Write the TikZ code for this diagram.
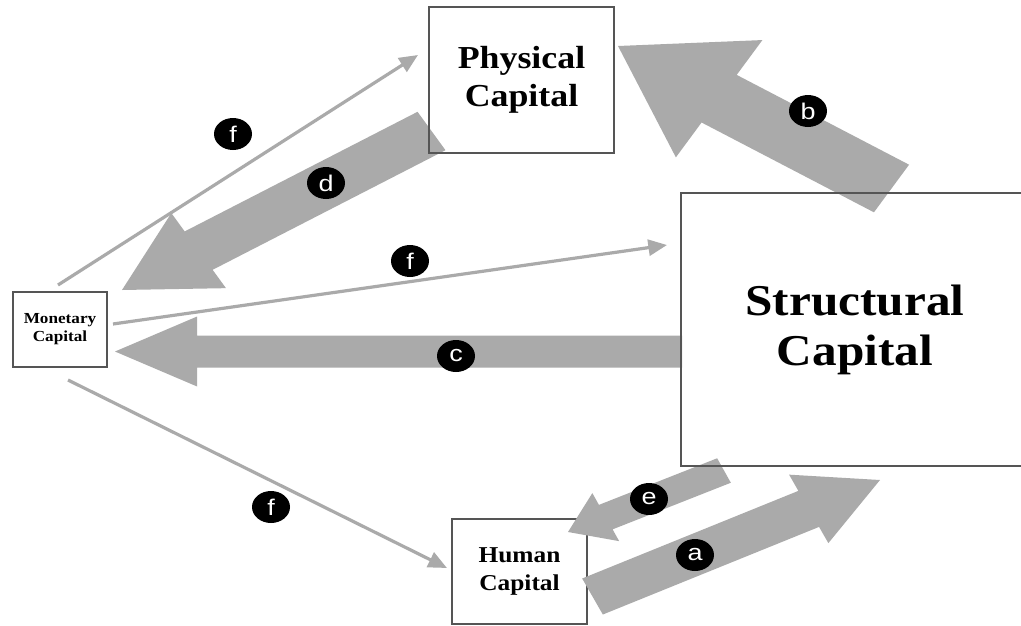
\documentclass[tikz,border=0pt]{standalone}
\usepackage{fontspec}
\usetikzlibrary{arrows.meta,shapes.geometric}
\newfontfamily\boxfont[FakeStretch=1.12]{Liberation Serif}
\newfontfamily\tagfont[FakeStretch=1.19]{Liberation Sans}
\pgfdeclarelayer{arrowlayer}
\pgfsetlayers{arrowlayer,main}

% horizontal stretch of the whole drawing
\newcommand\hstretch{1.19}

% \blockarrow{tail}{tip}{shaft half width}{head half width}{head length}
% widths and length in picture units (px), measured before the stretch
\newcommand\blockarrow[5]{%
  \pgfpointanchor{#1}{center}\pgfgetlastxy{\bax}{\bay}%
  \pgfpointanchor{#2}{center}\pgfgetlastxy{\bbx}{\bby}%
  \pgfmathsetmacro\bdx{(\bbx-\bax)/\hstretch}%
  \pgfmathsetmacro\bdy{\bby-\bay}%
  \pgfmathsetmacro\blen{veclen(\bdx,\bdy)}%
  \pgfmathsetmacro\bux{\bdx/\blen}%
  \pgfmathsetmacro\buy{\bdy/\blen}%
  \pgfmathsetmacro\bpx{-\buy*\hstretch}%
  \pgfmathsetmacro\bpy{\bux}%
  \pgfmathsetmacro\bsw{#3*0.75}%
  \pgfmathsetmacro\bhw{#4*0.75}%
  \pgfmathsetmacro\bhl{#5*0.75}%
  \pgfmathsetmacro\bhx{\bbx-\bux*\hstretch*\bhl}%
  \pgfmathsetmacro\bhy{\bby-\buy*\bhl}%
  \pgfmathsetmacro\tax{\bax+\bpx*\bsw}\pgfmathsetmacro\tay{\bay+\bpy*\bsw}%
  \pgfmathsetmacro\tbx{\bax-\bpx*\bsw}\pgfmathsetmacro\tby{\bay-\bpy*\bsw}%
  \pgfmathsetmacro\jax{\bhx+\bpx*\bsw}\pgfmathsetmacro\jay{\bhy+\bpy*\bsw}%
  \pgfmathsetmacro\jbx{\bhx-\bpx*\bsw}\pgfmathsetmacro\jby{\bhy-\bpy*\bsw}%
  \pgfmathsetmacro\hax{\bhx+\bpx*\bhw}\pgfmathsetmacro\hay{\bhy+\bpy*\bhw}%
  \pgfmathsetmacro\hbx{\bhx-\bpx*\bhw}\pgfmathsetmacro\hby{\bhy-\bpy*\bhw}%
  \pgfmathsetmacro\tipx{\bbx}\pgfmathsetmacro\tipy{\bby}%
  \begin{pgfonlayer}{arrowlayer}
    \fill[blockfill] (\tax pt,\tay pt) -- (\jax pt,\jay pt) -- (\hax pt,\hay pt)
      -- (\tipx pt,\tipy pt) -- (\hbx pt,\hby pt) -- (\jbx pt,\jby pt)
      -- (\tbx pt,\tby pt) -- cycle;
  \end{pgfonlayer}%
}

\definecolor{flowgray}{HTML}{AAAAAA}
\definecolor{edgegray}{HTML}{555555}

\tikzset{
  blockfill/.style={fill=flowgray},
  capbox/.style={draw=edgegray, line width=1pt, rectangle, align=center,
    inner sep=0pt, font=\boxfont\bfseries},
  thinflow/.style={draw=flowgray, line width=2.4pt,
    -{Triangle[length=14pt,width=12pt]}},
  tag/.style={ellipse, fill=black, text=white, inner sep=0pt,
    minimum width=28.5pt, minimum height=24pt,
    font=\tagfont\fontsize{17}{17}\selectfont}
}

\begin{document}
\begin{tikzpicture}[x=0.75pt, y=-0.75pt]
  \useasboundingbox (0,0) rectangle (1021,625);
  \begin{pgfonlayer}{arrowlayer}
    \fill[white] (0,0) rectangle (1021,625);
  \end{pgfonlayer}
  \clip (0,0) rectangle (1021,625);

  % capital boxes (human capital sits under the arrows a and e)
  \node[capbox, minimum width=138.75pt, minimum height=109.5pt,
    font=\boxfont\bfseries\fontsize{24}{28.5}\selectfont]
    (phys) at (521.5,80) {Physical\\Capital};
  \node[capbox, minimum width=261pt, minimum height=204.75pt,
    font=\boxfont\bfseries\fontsize{33}{37.5}\selectfont]
    (struct) at (855,329.5) {Structural\\Capital};
  \node[capbox, minimum width=70.5pt, minimum height=56.25pt,
    font=\boxfont\bfseries\fontsize{11.5}{13.5}\selectfont]
    (mon) at (60,329.5) {Monetary\\Capital};

  % ends of the block arrows
  \coordinate (d-tail) at (431.5,131);   \coordinate (d-tip) at (122,290);
  \coordinate (b-tail) at (891.5,188.5); \coordinate (b-tip) at (618,46);
  \coordinate (c-tail) at (682,351.5);   \coordinate (c-tip) at (115,351.5);
  \coordinate (e-tail) at (724,470.5);   \coordinate (e-tip) at (568,532);
  \coordinate (a-tail) at (592.5,596.5); \coordinate (a-tip) at (880,480);

  \blockarrow{d-tail}{d-tip}{22.5}{44}{75.5}
  \blockarrow{b-tail}{b-tip}{28}{69}{100}
  \blockarrow{c-tail}{c-tip}{16}{35}{69}

  % money flows out of monetary capital
  \coordinate (f1-from) at (58,285);  \coordinate (f1-to) at (418,55);
  \coordinate (f2-from) at (113,324); \coordinate (f2-to) at (667,245);
  \coordinate (f3-from) at (68,380);  \coordinate (f3-to) at (447,568);
  \begin{pgfonlayer}{arrowlayer}
    \draw[thinflow] (f1-from) -- (f1-to);
    \draw[thinflow] (f2-from) -- (f2-to);
    \draw[thinflow] (f3-from) -- (f3-to);
    \node[capbox, minimum width=101.25pt, minimum height=78.75pt,
      font=\boxfont\bfseries\fontsize{17}{21}\selectfont]
      (human) at (519.5,571.5) {Human\\Capital};
  \end{pgfonlayer}

  \blockarrow{e-tail}{e-tip}{13.5}{26.5}{35}
  \blockarrow{a-tail}{a-tip}{20}{38}{66.5}

  % flow tags
  \node[tag] (tf1) at (233,134) {f};
  \node[tag] (td)  at (326,183) {d};
  \node[tag] (tf2) at (410,261) {f};
  \node[tag] (tb)  at (808,111) {b};
  \node[tag] (tc)  at (456,356) {c};
  \node[tag] (tf3) at (271,507) {f};
  \node[tag] (te)  at (649,499) {e};
  \node[tag] (ta)  at (695,555) {a};
\end{tikzpicture}
\end{document}
